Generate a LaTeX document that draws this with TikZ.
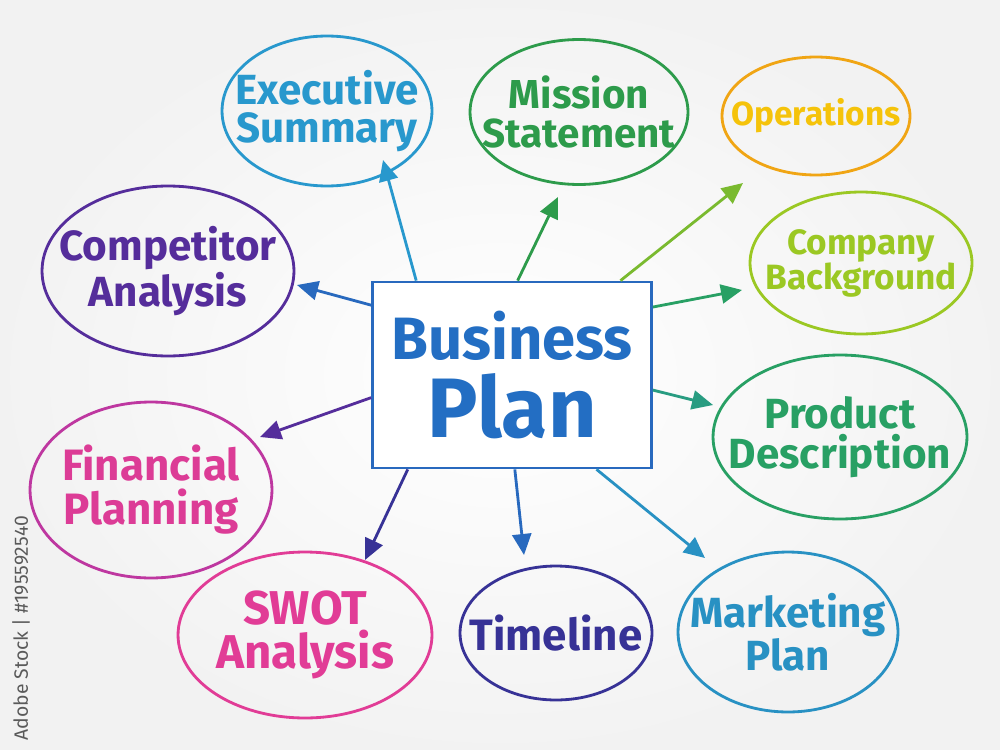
\documentclass[tikz,border=0pt]{standalone}
\usepackage{fontspec}
\setmainfont{Fira Sans}
\usetikzlibrary{shapes.geometric,arrows.meta,calc}
\definecolor{bpBlue}{RGB}{35,110,195}
\definecolor{bpLine}{RGB}{40,105,190}
\definecolor{execC}{RGB}{40,152,205}
\definecolor{missC}{RGB}{45,155,75}
\definecolor{opsC}{RGB}{245,195,10}
\definecolor{opsL}{RGB}{240,165,20}
\definecolor{compC}{RGB}{155,200,35}
\definecolor{prodC}{RGB}{40,160,100}
\definecolor{markC}{RGB}{40,145,195}
\definecolor{timeC}{RGB}{55,50,150}
\definecolor{swotC}{RGB}{225,60,150}
\definecolor{finC}{RGB}{220,60,150}
\definecolor{finL}{RGB}{190,55,160}
\definecolor{rivC}{RGB}{85,45,155}
\definecolor{stockC}{RGB}{90,90,90}
\begin{document}
\begin{tikzpicture}[x=0.02cm,y=-0.02cm,
  bubble/.style={ellipse,draw,line width=1.6pt,inner xsep=-40pt,inner ysep=-30pt,align=center},
  link/.style={line width=1.6pt,-{Triangle[length=0.42cm,width=0.38cm]}}]
\useasboundingbox (0,0) rectangle (1000,750);
\shade[inner color=white,outer color=black!5] (0,0) rectangle (1000,750);

\node[draw=bpLine,line width=1.6pt,fill=white,minimum width=5.58cm,minimum height=3.72cm,
  inner sep=0pt,align=center,text=bpBlue,font=\bfseries] (bp) at (512,375)
  {\fontsize{34}{38}\selectfont Business\\[6pt]\fontsize{48}{52}\selectfont Plan};

\node[bubble,draw=execC,text=execC,minimum width=4.2cm,minimum height=3cm,
  font=\bfseries\fontsize{24}{22}\selectfont] (exec) at (327,111) {Executive\\Summary};
\node[bubble,draw=missC,text=missC,minimum width=4.36cm,minimum height=2.9cm,
  font=\bfseries\fontsize{23}{22}\selectfont] (miss) at (579,112) {Mission\\Statement};
\node[bubble,draw=opsL,text=opsC,minimum width=3.76cm,minimum height=2.36cm,
  font=\bfseries\fontsize{19}{21}\selectfont] (ops) at (816,116) {Operations};
\node[bubble,draw=compC,text=compC,minimum width=4.44cm,minimum height=2.84cm,
  font=\bfseries\fontsize{20}{20}\selectfont] (comp) at (861,263) {Company\\Background};
\node[bubble,draw=prodC,text=prodC,minimum width=5.08cm,minimum height=3.28cm,
  font=\bfseries\fontsize{24}{23}\selectfont] (prod) at (840,437) {Product\\Description};
\node[bubble,draw=markC,text=markC,minimum width=4.4cm,minimum height=3.2cm,
  font=\bfseries\fontsize{24}{22}\selectfont] (mark) at (788,632) {Marketing\\Plan};
\node[bubble,draw=timeC,text=timeC,minimum width=3.84cm,minimum height=2.68cm,
  font=\bfseries\fontsize{25}{22}\selectfont] (time) at (556,633) {Timeline};
\node[bubble,draw=swotC,text=swotC,minimum width=5.08cm,minimum height=3.32cm,
  font=\bfseries\fontsize{27}{25}\selectfont] (swot) at (305,635) {SWOT\\Analysis};
\node[bubble,draw=finL,text=finC,minimum width=4.84cm,minimum height=3.52cm,
  font=\bfseries\fontsize{25}{25}\selectfont] (fin) at (151,490) {Financial\\Planning};
\node[bubble,draw=rivC,text=rivC,minimum width=5.04cm,minimum height=3.4cm,
  font=\bfseries\fontsize{24}{23}\selectfont] (riv) at (168,271) {Competitor\\Analysis};

\node[rotate=90,text=stockC,font=\fontsize{11}{13}\selectfont] (stock) at (21,628) {Adobe Stock | \#195592540};

\coordinate (tExec) at (383,160);
\coordinate (tMiss) at (558,197);
\coordinate (tOps) at (743,183);
\coordinate (tComp) at (742,290);
\coordinate (tProd) at (713,405);
\coordinate (tMark) at (705,558);
\coordinate (tTime) at (524,555);
\coordinate (tSwot) at (365,560);
\coordinate (tFin) at (260,437);
\coordinate (tRiv) at (297,285);

\draw[link,execC] ($(bp.north west)!0.16!(bp.north east)$) -- (tExec);
\draw[link,missC] ($(bp.north west)!0.52!(bp.north east)$) -- (tMiss);
\draw[link,compC!70!missC] ($(bp.north west)!0.885!(bp.north east)$) -- (tOps);
\draw[link,prodC] ($(bp.north east)!0.14!(bp.south east)$) -- (tComp);
\draw[link,prodC!70!markC] ($(bp.north east)!0.58!(bp.south east)$) -- (tProd);
\draw[link,markC] ($(bp.south west)!0.80!(bp.south east)$) -- (tMark);
\draw[link,bpLine] ($(bp.south west)!0.51!(bp.south east)$) -- (tTime);
\draw[link,timeC] ($(bp.south west)!0.13!(bp.south east)$) -- (tSwot);
\draw[link,rivC] ($(bp.north west)!0.62!(bp.south west)$) -- (tFin);
\draw[link,bpLine] ($(bp.north west)!0.13!(bp.south west)$) -- (tRiv);
\end{tikzpicture}
\end{document}
